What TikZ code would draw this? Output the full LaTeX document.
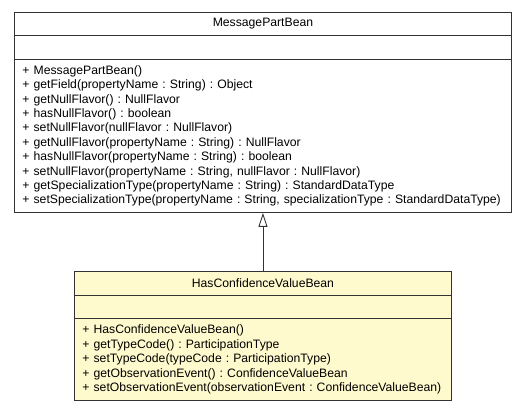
\documentclass[tikz,border=0pt]{standalone}
\usepackage{fontspec}
\setmainfont{Liberation Sans}
\usetikzlibrary{arrows.meta, positioning}
\definecolor{beanfill}{HTML}{FFFACD}
\definecolor{boxline}{HTML}{333333}
\frenchspacing

\begin{document}
\begin{tikzpicture}[x=1pt, y=-1pt,
  font=\fontsize{12.2}{14.4}\selectfont,
  part/.style={draw=boxline, line width=0.9pt, anchor=north west, inner sep=0pt},
  ops/.style={part, inner xsep=8pt, align=left},
  gen/.style={-{Triangle[open, length=14pt, width=9pt]}, line width=0.9pt, draw=boxline}]
  \useasboundingbox (0,0) rectangle (525,411);
  % superclass
  \node[part, minimum width=497pt, minimum height=23pt] (mpbname) at (14,12) {MessagePartBean};
  \node[part, minimum width=497pt, minimum height=24pt] (mpbattr) at (14,35) {};
  \node[ops, text width=481pt, minimum height=153pt] (mpbops) at (14,59) {%
    + MessagePartBean()\\
    + getField(propertyName : String) : Object\\
    + getNullFlavor() : NullFlavor\\
    + hasNullFlavor() : boolean\\
    + setNullFlavor(nullFlavor : NullFlavor)\\
    + getNullFlavor(propertyName : String) : NullFlavor\\
    + hasNullFlavor(propertyName : String) : boolean\\
    + setNullFlavor(propertyName : String, nullFlavor : NullFlavor)\\
    + getSpecializationType(propertyName : String) : StandardDataType\\
    + setSpecializationType(propertyName : String, specializationType : StandardDataType)};
  % subclass
  \node[part, fill=beanfill, minimum width=377pt, minimum height=24pt] (hcvname) at (74,271) {HasConfidenceValueBean};
  \node[part, fill=beanfill, minimum width=377pt, minimum height=23pt] (hcvattr) at (74,295) {};
  \node[ops, fill=beanfill, text width=361pt, minimum height=82pt] (hcvops) at (74,318) {%
    + HasConfidenceValueBean()\\
    + getTypeCode() : ParticipationType\\
    + setTypeCode(typeCode : ParticipationType)\\
    + getObservationEvent() : ConfidenceValueBean\\
    + setObservationEvent(observationEvent : ConfidenceValueBean)};
  \draw[gen] (hcvname.north) -- (mpbops.south);
\end{tikzpicture}
\end{document}
